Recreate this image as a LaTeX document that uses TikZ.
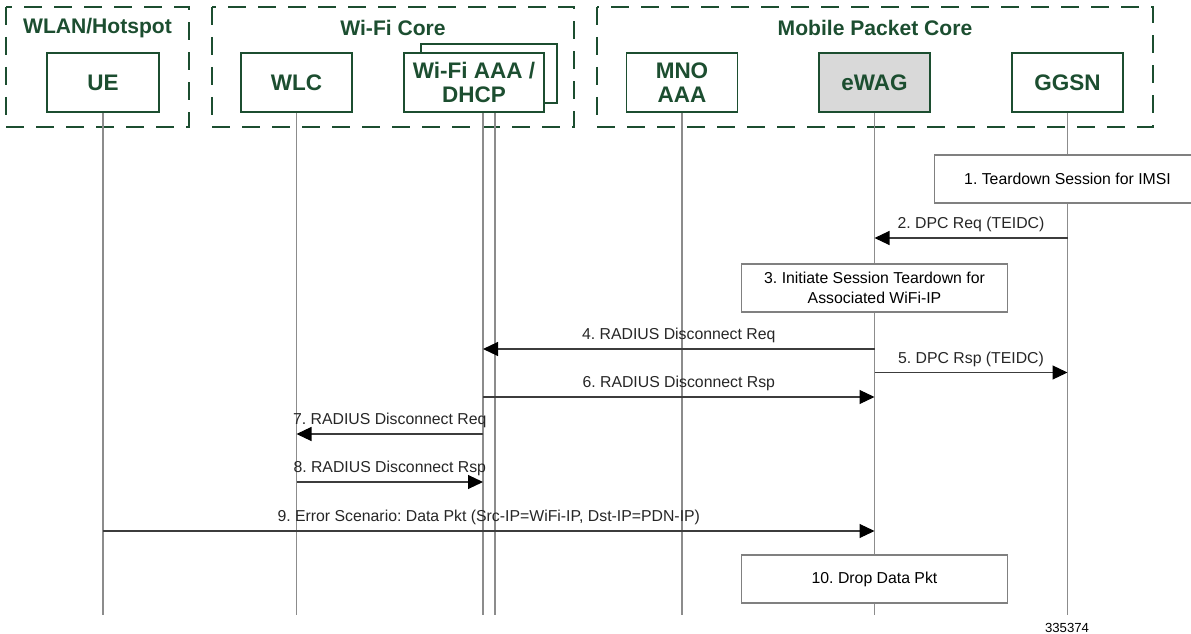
\documentclass[tikz,border=0pt]{standalone}
\usepackage{fontspec}
\setmainfont{Liberation Sans}
\usetikzlibrary{positioning,arrows.meta,calc}
\definecolor{netgreen}{RGB}{28,78,48}
\definecolor{gwfill}{RGB}{217,217,217}
\definecolor{lifeline}{RGB}{140,140,140}
\definecolor{msgline}{RGB}{60,60,60}
\definecolor{noteline}{RGB}{128,128,128}
\tikzset{
  grp/.style={draw=netgreen, dash pattern=on 0.36cm off 0.24cm, line width=1.1pt},
  grptitle/.style={text=netgreen, font=\bfseries\fontsize{12}{14}\selectfont, inner sep=1pt},
  ent/.style={draw=netgreen, fill=white, line width=0.9pt, minimum width=2.22cm,
              minimum height=1.18cm, align=center, text=netgreen, inner sep=0pt,
              font=\bfseries\fontsize{12.8}{13.7}\selectfont},
  life/.style={draw=lifeline, line width=0.6pt},
  msg/.style={draw=msgline, line width=0.6pt, -{Triangle[length=0.3cm,width=0.28cm,black]}},
  lab/.style={font=\fontsize{9}{11}\selectfont, text=black!85, inner sep=1pt, above=2pt},
  note/.style={draw=noteline, fill=white, line width=0.6pt, minimum width=5.32cm,
               minimum height=0.96cm, align=center, font=\fontsize{9}{11.3}\selectfont},
}
\frenchspacing

\begin{document}
\begin{tikzpicture}
  \useasboundingbox (0,0) rectangle (23.82,-12.68);

  %% domains
  \draw[grp] (0.12,-0.14) rectangle (3.78,-2.54);
  \draw[grp] (4.24,-0.14) rectangle (11.48,-2.54);
  \draw[grp] (11.94,-0.14) rectangle (23.06,-2.54);
  \node[grptitle] (wlanT) at (1.95,-0.56) {WLAN/Hotspot};
  \node[grptitle] (wifiT) at (7.86,-0.56) {Wi-Fi Core};
  \node[grptitle] (mpcT) at (17.50,-0.56) {Mobile Packet Core};

  %% entities
  \node[ent, minimum width=2.24cm] (ue) at (2.06,-1.65) {UE};
  \node[ent] (wlc) at (5.93,-1.65) {WLC};
  \node[ent, minimum width=2.72cm] (aaab) at (9.78,-1.47) {};
  \node[ent, minimum width=2.8cm] (aaa) at (9.48,-1.65) {Wi-Fi AAA /\\DHCP};
  \node[ent] (mno) at (13.64,-1.65) {MNO\\AAA};
  \node[ent, fill=gwfill] (ewag) at (17.49,-1.65) {eWAG};
  \node[ent] (ggsn) at (21.35,-1.65) {GGSN};

  %% lifelines
  \coordinate (end) at (0,-12.30);
  \foreach \n in {ue,wlc,mno,ewag,ggsn}
    \draw[life] (\n.south) -- (\n.south |- end);
  \coordinate (aaaL) at ($(aaab.center)+(-0.12,0)$);
  \coordinate (aaaR) at ($(aaab.center)+(0.12,0)$);
  \draw[life] (aaaL |- aaa.south) -- (aaaL |- end);
  \draw[life] (aaaR |- aaa.south) -- (aaaR |- end);

  %% flow
  \node[note] (n1) at (ggsn |- 0,-3.58) {1. Teardown Session for IMSI};

  \coordinate (y2) at (0,-4.76);
  \draw[msg] (y2 -| ggsn) -- node[lab] {2. DPC Req (TEIDC)} (y2 -| ewag);

  \node[note] (n3) at (ewag |- 0,-5.76) {3. Initiate Session Teardown for\\Associated WiFi-IP};

  \coordinate (y4) at (0,-6.98);
  \draw[msg] (y4 -| ewag) -- node[lab] {4. RADIUS Disconnect Req} (y4 -| aaaL);

  \coordinate (y5) at (0,-7.45);
  \draw[msg] (y5 -| ewag) -- node[lab] {5. DPC Rsp (TEIDC)} (y5 -| ggsn);

  \coordinate (y6) at (0,-7.94);
  \draw[msg] (y6 -| aaaL) -- node[lab] {6. RADIUS Disconnect Rsp} (y6 -| ewag);

  \coordinate (y7) at (0,-8.68);
  \draw[msg] (y7 -| aaaL) -- node[lab] {7. RADIUS Disconnect Req} (y7 -| wlc);

  \coordinate (y8) at (0,-9.64);
  \draw[msg] (y8 -| wlc) -- node[lab] {8. RADIUS Disconnect Rsp} (y8 -| aaaL);

  \coordinate (y9) at (0,-10.62);
  \draw[msg] (y9 -| ue) -- node[lab] {9. Error Scenario: Data Pkt (Src-IP=WiFi-IP, Dst-IP=PDN-IP)} (y9 -| ewag);

  \node[note] (n10) at (ewag |- 0,-11.58) {10. Drop Data Pkt};

  \node[font=\fontsize{7.5}{9}\selectfont, inner sep=0pt] (figid) at (21.34,-12.56) {335374};
\end{tikzpicture}
\end{document}
